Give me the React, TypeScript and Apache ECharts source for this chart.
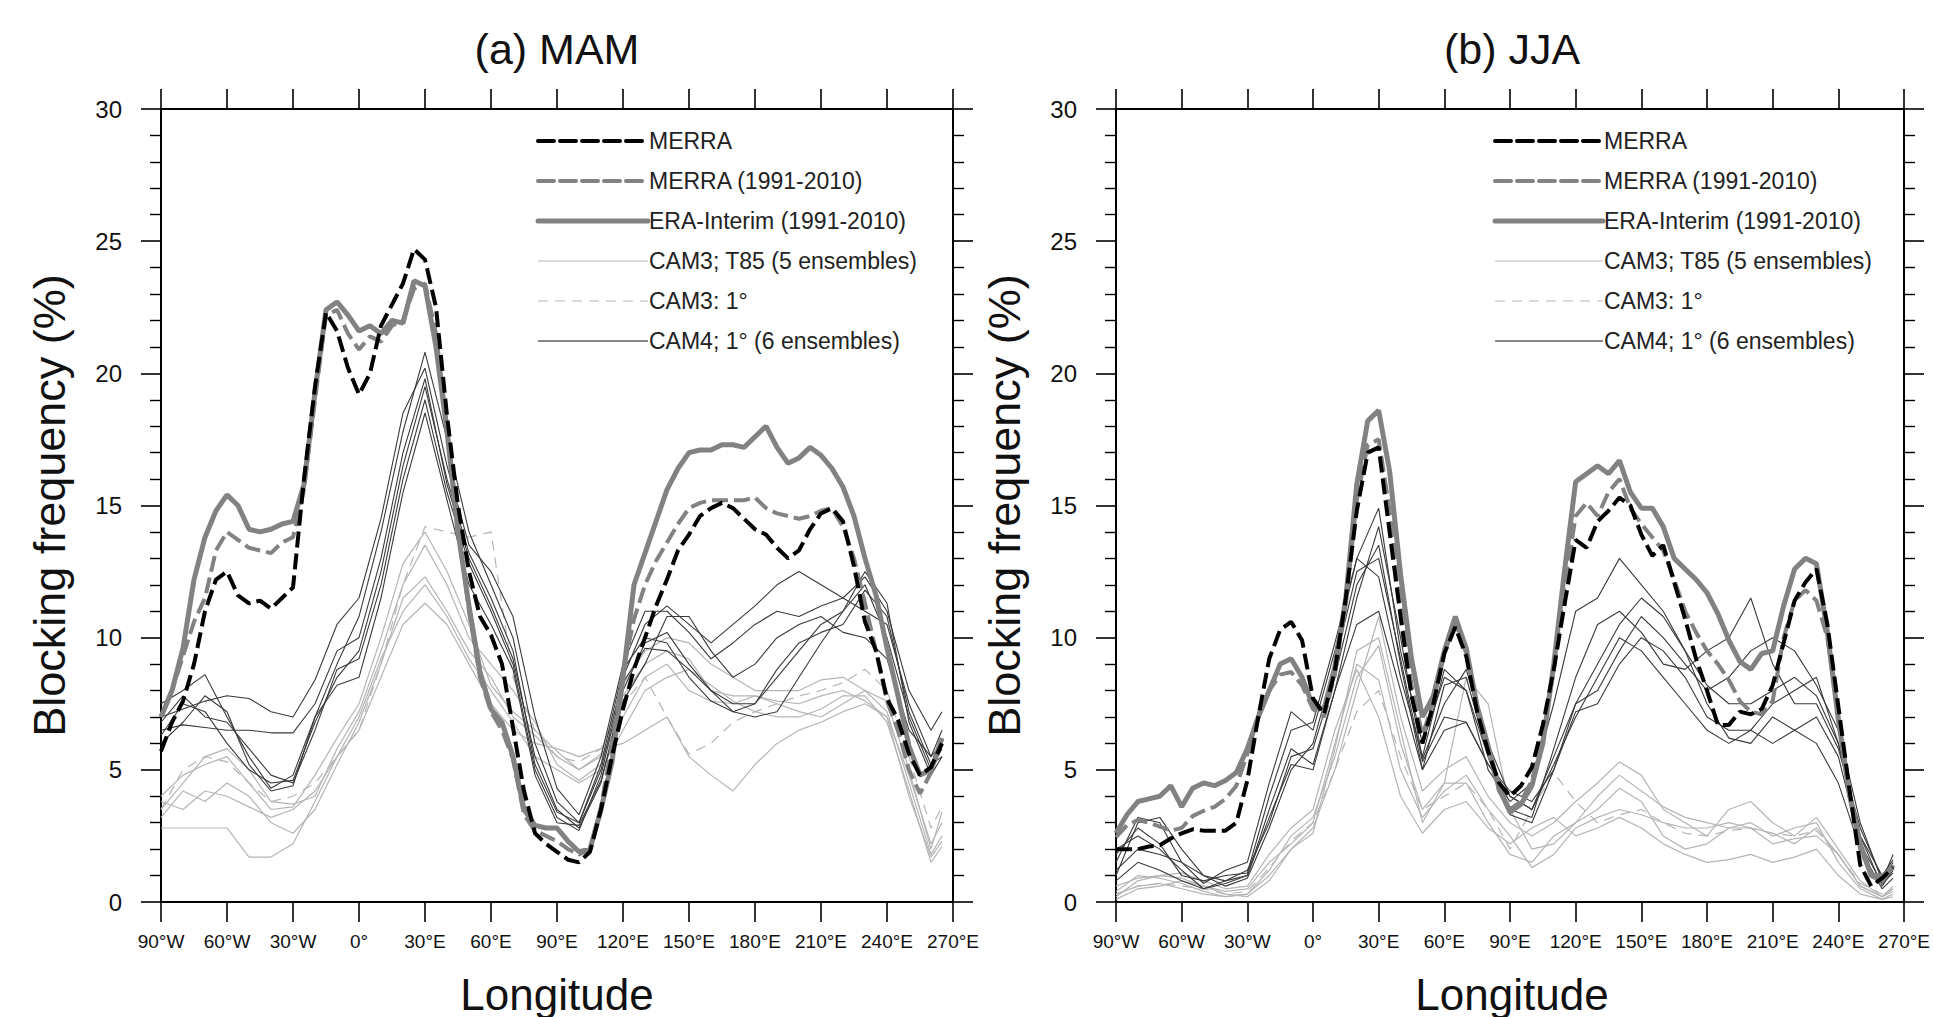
import React, { useEffect, useRef } from "react";
import * as echarts from "echarts";

// ---------- data ----------
const LON5 = [-90, -85, -80, -75, -70, -65, -60, -55, -50, -45, -40, -35, -30, -25, -20, -15, -10, -5, 0, 5, 10, 15, 20, 25, 30, 35, 40, 45, 50, 55, 60, 65, 70, 75, 80, 85, 90, 95, 100, 105, 110, 115, 120, 125, 130, 135, 140, 145, 150, 155, 160, 165, 170, 175, 180, 185, 190, 195, 200, 205, 210, 215, 220, 225, 230, 235, 240, 245, 250, 255, 260, 265];
const LON10 = [-90, -80, -70, -60, -50, -40, -30, -20, -10, 0, 10, 20, 30, 40, 50, 60, 70, 80, 90, 100, 110, 120, 130, 140, 150, 160, 170, 180, 190, 200, 210, 220, 230, 240, 250, 260, 265];

const X_TICK_LABELS = ["90°W", "60°W", "30°W", "0°", "30°E", "60°E", "90°E", "120°E", "150°E", "180°E", "210°E", "240°E", "270°E"];
const TITLES = ["(a) MAM", "(b) JJA"];
const Y_NAME = "Blocking frequency (%)";
const X_NAME = "Longitude";
const LEGEND_NAMES = ["MERRA", "MERRA (1991-2010)", "ERA-Interim (1991-2010)", "CAM3; T85 (5 ensembles)", "CAM3: 1°", "CAM4; 1° (6 ensembles)"];

// ----- MAM -----
const MAM_MERRA = [
  5.7, 6.8, 7.6, 9.0, 11.0, 12.2, 12.5, 11.6, 11.3, 11.4, 11.1, 11.5,
  11.9, 16.0, 19.5, 22.3, 21.6, 20.2, 19.2, 20.0, 21.8, 22.6, 23.4, 24.7,
  24.3, 22.5, 18.4, 15.0, 12.5, 10.8, 10.1, 9.0, 6.6, 4.2, 2.6, 2.2,
  1.9, 1.6, 1.5, 1.9, 3.5, 5.5, 7.3, 8.8, 10.0, 11.2, 12.2, 13.3,
  13.9, 14.6, 14.9, 15.1, 14.9, 14.5, 14.1, 13.9, 13.4, 13.0, 13.3, 14.1,
  14.7, 14.9, 14.4, 12.7, 10.6, 9.5, 7.7, 6.9, 5.6, 4.8, 5.1, 6.0,
];
const MAM_MERRA91 = [
  7.0, 8.0, 9.3, 10.6, 11.5, 13.3, 14.0, 13.7, 13.4, 13.3, 13.2, 13.6,
  13.8, 15.6, 19.0, 22.2, 22.4, 21.5, 20.9, 21.4, 21.2, 21.8, 22.0, 23.2,
  23.4, 21.5, 18.0, 14.2, 11.0, 8.5, 7.2, 6.5, 5.4, 3.3, 2.7, 2.5,
  2.3, 2.0, 1.8, 2.0, 3.6, 6.0, 8.7, 10.7, 12.0, 12.9, 13.6, 14.3,
  14.9, 15.1, 15.2, 15.2, 15.2, 15.2, 15.3, 14.9, 14.7, 14.6, 14.5, 14.6,
  14.8, 14.9, 14.2, 13.0, 11.3, 9.5, 7.6, 6.5, 5.0, 4.1, 4.9, 6.2,
];
const MAM_ERA = [
  7.0, 8.0, 9.6, 12.2, 13.8, 14.8, 15.4, 15.0, 14.1, 14.0, 14.1, 14.3,
  14.4, 15.8, 19.3, 22.4, 22.7, 22.2, 21.6, 21.8, 21.5, 22.0, 21.9, 23.5,
  23.3, 21.0, 17.8, 14.0, 11.2, 8.7, 7.3, 6.8, 5.5, 3.5, 2.9, 2.8,
  2.8, 2.3, 1.9, 2.0, 3.5, 5.3, 8.5, 12.0, 13.2, 14.4, 15.6, 16.4,
  17.0, 17.1, 17.1, 17.3, 17.3, 17.2, 17.6, 18.0, 17.2, 16.6, 16.8, 17.2,
  16.9, 16.4, 15.7, 14.6, 13.0, 11.6, 9.6, 7.8, 5.9, 4.8, 5.0, 6.2,
];
const MAM_T85 = [
  [2.8, 2.8, 2.8, 2.8, 1.7, 1.7, 2.2, 3.8, 5.5, 6.5, 8.5, 10.5, 11.3, 10.5, 9.0, 7.5, 6.5, 6.0, 5.8, 5.5, 5.8, 6.0, 6.5, 7.0, 5.5, 4.8, 4.2, 5.2, 6.0, 6.5, 6.8, 7.2, 7.5, 7.0, 4.0, 1.7, 2.3],
  [3.2, 4.2, 3.8, 4.5, 4.0, 3.0, 2.6, 3.5, 5.2, 6.8, 9.0, 11.5, 12.3, 11.0, 9.5, 8.5, 7.0, 6.3, 5.5, 5.0, 5.5, 7.0, 8.5, 9.0, 8.0, 7.6, 7.5, 7.8, 7.5, 7.2, 7.0, 7.5, 8.0, 7.2, 4.5, 1.8, 2.5],
  [3.5, 4.5, 5.5, 5.8, 5.0, 3.8, 3.7, 4.0, 5.8, 7.2, 9.5, 12.0, 13.5, 12.0, 10.0, 9.0, 8.0, 6.8, 5.2, 4.6, 5.2, 7.8, 9.0, 9.5, 9.2, 8.0, 7.8, 7.8, 7.6, 7.5, 7.8, 8.0, 7.6, 7.0, 4.8, 2.2, 3.0],
  [4.0, 4.8, 5.2, 5.5, 4.5, 3.5, 3.6, 4.8, 6.2, 7.5, 10.0, 12.8, 14.0, 12.5, 10.5, 8.2, 7.2, 6.5, 5.7, 5.0, 5.6, 8.2, 9.5, 10.0, 9.8, 9.0, 8.5, 8.0, 8.0, 8.0, 8.4, 8.5, 8.0, 7.6, 5.0, 2.0, 3.4],
  [3.8, 3.5, 4.2, 4.0, 3.6, 3.2, 3.5, 4.2, 5.5, 7.0, 9.2, 11.0, 12.0, 10.8, 9.2, 8.0, 6.8, 5.5, 5.0, 4.5, 5.0, 6.5, 8.0, 8.5, 8.8, 8.2, 7.6, 7.2, 7.0, 7.0, 7.3, 7.8, 7.8, 6.8, 4.2, 1.5, 2.1],
];
const MAM_CAM3_1DEG = [3.5, 5.0, 5.5, 5.3, 4.5, 3.8, 4.0, 4.5, 5.5, 6.5, 9.0, 12.0, 14.2, 14.0, 13.8, 14.0, 8.5, 6.5, 5.5, 5.3, 5.8, 7.5, 8.5, 7.0, 5.6, 6.0, 6.8, 7.2, 7.5, 7.8, 8.0, 8.3, 8.8, 8.0, 5.5, 2.8, 3.6];
const MAM_CAM4 = [
  [7.5, 8.0, 8.6, 7.0, 5.5, 4.3, 4.8, 7.0, 9.0, 10.8, 14.0, 17.8, 20.8, 17.5, 14.0, 12.0, 10.0, 6.0, 3.8, 3.0, 5.0, 8.5, 10.5, 11.2, 10.5, 9.8, 10.5, 11.2, 12.0, 12.5, 12.0, 11.5, 11.0, 10.5, 7.5, 5.5, 6.0],
  [7.0, 7.3, 7.6, 7.8, 7.7, 7.2, 7.0, 8.4, 10.5, 11.5, 14.5, 18.5, 20.2, 16.5, 13.5, 12.5, 10.8, 7.0, 4.3, 3.3, 5.5, 9.0, 11.0, 11.0, 10.2, 9.2, 9.8, 10.5, 11.0, 10.8, 11.2, 11.5, 12.3, 11.0, 8.0, 6.5, 7.2],
  [6.5, 6.7, 6.6, 6.5, 6.5, 6.4, 6.4, 7.5, 9.5, 10.0, 13.0, 17.0, 19.8, 15.8, 13.0, 11.2, 9.2, 5.5, 3.5, 2.8, 4.5, 8.0, 9.8, 10.2, 9.0, 8.0, 7.5, 7.5, 8.5, 9.5, 10.5, 11.0, 12.0, 10.0, 7.0, 5.0, 5.8],
  [6.3, 7.5, 7.2, 6.0, 5.0, 4.5, 4.6, 6.8, 8.5, 9.5, 12.5, 16.5, 19.5, 16.0, 13.2, 11.5, 9.5, 5.2, 3.4, 3.0, 5.2, 8.8, 10.0, 9.8, 8.5, 7.6, 7.2, 7.5, 8.8, 9.8, 10.2, 10.5, 11.8, 10.8, 7.2, 5.2, 5.5],
  [6.8, 7.8, 7.0, 6.8, 5.8, 4.8, 4.5, 6.5, 8.8, 9.2, 12.0, 16.0, 19.0, 15.5, 12.8, 11.0, 9.0, 5.0, 3.2, 2.7, 4.8, 8.3, 9.6, 9.5, 8.8, 8.0, 7.2, 7.0, 7.2, 8.5, 9.8, 11.0, 12.5, 11.3, 6.8, 4.8, 5.5],
  [6.0, 6.8, 7.8, 7.2, 5.2, 4.2, 4.4, 7.0, 8.2, 8.5, 11.5, 15.5, 18.5, 15.2, 12.0, 10.5, 8.8, 4.8, 3.0, 2.9, 4.6, 7.6, 9.0, 10.8, 10.8, 9.5, 8.5, 9.0, 10.0, 10.5, 10.8, 10.2, 10.0, 9.2, 6.5, 5.5, 6.5],
];

// ----- JJA -----
const JJA_MERRA = [
  2.0, 2.0, 2.0, 2.1, 2.15, 2.4, 2.6, 2.75, 2.7, 2.7, 2.7, 3.0,
  4.6, 7.0, 9.2, 10.3, 10.6, 9.9, 7.7, 7.1, 8.75, 11.5, 14.8, 17.0,
  17.2, 14.0, 10.8, 7.8, 6.0, 7.5, 9.4, 10.4, 9.3, 7.2, 5.7, 4.5,
  4.0, 4.4, 5.1, 6.7, 8.8, 11.3, 13.7, 13.4, 14.4, 14.8, 15.3, 15.0,
  13.9, 13.1, 13.5, 12.1, 10.7, 9.2, 8.0, 6.7, 6.7, 7.2, 7.1, 7.3,
  8.2, 9.8, 11.4, 12.1, 12.6, 10.5, 7.4, 4.3, 1.4, 0.6, 0.9, 1.3,
];
const JJA_MERRA91 = [
  2.45, 2.9, 3.1, 3.0, 2.85, 2.7, 2.8, 3.25, 3.45, 3.6, 3.9, 4.4,
  5.6, 7.1, 8.0, 8.6, 8.7, 8.2, 7.3, 7.0, 8.6, 11.3, 15.2, 17.3,
  17.5, 14.8, 11.2, 8.2, 6.3, 7.6, 9.4, 10.6, 9.4, 7.3, 5.7, 4.2,
  3.5, 3.8, 4.6, 6.3, 8.8, 12.0, 14.6, 15.1, 14.6, 15.5, 16.0, 14.9,
  14.3, 13.8, 13.3, 12.2, 11.0, 10.2, 9.5, 9.0, 8.4, 7.6, 7.2, 7.1,
  7.6, 10.0, 11.4, 11.8, 11.4, 10.0, 7.0, 4.1, 2.0, 1.05, 1.0, 1.3,
];
const JJA_ERA = [
  2.6, 3.3, 3.8, 3.9, 4.0, 4.4, 3.6, 4.3, 4.5, 4.4, 4.6, 4.9,
  5.8, 7.0, 8.0, 9.0, 9.2, 8.5, 7.4, 7.3, 8.9, 11.5, 15.8, 18.2,
  18.6, 16.3, 12.4, 9.2, 7.0, 7.8, 9.5, 10.8, 9.6, 7.4, 5.9, 4.3,
  3.4, 3.7, 4.4, 6.0, 9.0, 12.6, 15.9, 16.2, 16.5, 16.2, 16.7, 15.5,
  14.9, 14.9, 14.2, 13.0, 12.6, 12.2, 11.7, 10.9, 9.9, 9.1, 8.8, 9.4,
  9.5, 11.2, 12.6, 13.0, 12.8, 10.2, 6.9, 4.1, 2.2, 1.0, 0.8, 1.4,
];
const JJA_T85 = [
  [0.2, 0.8, 1.0, 0.9, 0.6, 0.3, 0.2, 0.8, 2.0, 2.8, 5.0, 8.0, 10.8, 7.0, 4.2, 5.0, 5.5, 4.0, 3.0, 2.5, 3.0, 3.8, 4.5, 5.3, 4.8, 3.5, 3.0, 2.5, 3.5, 3.8, 3.0, 2.5, 3.2, 2.0, 0.8, 0.2, 0.6],
  [0.4, 1.0, 0.9, 0.7, 0.4, 0.2, 0.3, 1.2, 2.5, 3.2, 5.5, 8.5, 9.7, 6.0, 3.5, 4.5, 8.5, 7.5, 3.5, 2.0, 2.2, 3.0, 3.5, 4.3, 3.8, 2.5, 2.0, 2.2, 2.8, 3.0, 2.5, 2.8, 3.0, 1.5, 0.5, 0.1, 0.3],
  [0.1, 0.5, 0.6, 0.8, 0.6, 0.4, 0.5, 1.5, 2.2, 3.0, 6.0, 9.0, 8.4, 5.0, 3.2, 4.2, 4.8, 3.5, 2.5, 1.3, 1.8, 2.8, 3.2, 3.5, 3.3, 3.0, 2.8, 2.8, 3.0, 2.8, 2.2, 2.4, 2.5, 1.8, 0.6, 0.2, 0.4],
  [0.6, 0.9, 1.0, 1.1, 0.8, 0.5, 0.6, 1.8, 2.8, 3.5, 6.5, 8.8, 7.0, 4.0, 2.6, 3.5, 3.8, 2.8, 2.2, 2.8, 3.2, 2.5, 2.8, 3.2, 2.8, 2.2, 1.8, 1.5, 1.6, 1.8, 1.5, 1.7, 2.0, 1.0, 0.3, 0.1, 0.2],
  [0.3, 0.6, 0.7, 0.5, 0.3, 0.2, 0.3, 1.0, 2.0, 2.6, 5.8, 9.5, 10.0, 6.5, 3.0, 4.5, 4.5, 3.0, 1.8, 1.5, 2.5, 3.0, 4.0, 4.8, 4.2, 3.6, 3.2, 3.0, 2.8, 2.8, 2.6, 2.2, 2.8, 1.8, 0.6, 0.2, 0.5],
];
const JJA_CAM3_1DEG = [0.3, 0.6, 0.7, 0.6, 0.5, 0.3, 0.4, 1.3, 2.3, 3.0, 5.0, 7.2, 8.0, 5.5, 3.5, 4.0, 4.5, 3.5, 2.0, 3.5, 4.9, 3.8, 3.0, 3.3, 3.5, 3.0, 2.6, 2.5, 2.7, 2.8, 2.6, 2.5, 2.7, 1.8, 0.7, 0.3, 0.5];
const JJA_CAM4 = [
  [1.5, 3.2, 3.0, 1.5, 0.7, 1.2, 1.5, 4.5, 7.2, 6.5, 9.5, 13.0, 14.9, 9.5, 6.0, 8.5, 8.0, 5.0, 3.8, 4.5, 7.5, 11.0, 11.5, 13.0, 12.0, 11.0, 9.5, 8.2, 7.5, 7.5, 8.0, 8.5, 7.8, 6.0, 2.5, 1.0, 1.6],
  [1.0, 3.0, 3.2, 2.0, 1.0, 0.8, 1.0, 3.5, 5.8, 5.2, 8.0, 11.5, 14.2, 10.0, 5.4, 7.5, 8.8, 6.0, 4.0, 3.5, 5.5, 7.5, 8.0, 9.5, 10.8, 10.0, 9.0, 8.0, 8.5, 9.5, 10.0, 9.5, 8.2, 6.5, 3.0, 0.8, 1.8],
  [2.0, 2.5, 2.0, 1.2, 0.5, 0.8, 1.2, 3.0, 5.5, 5.8, 8.5, 12.0, 13.5, 9.0, 5.0, 8.2, 8.5, 5.5, 3.3, 3.0, 5.0, 7.2, 7.5, 9.0, 10.0, 9.5, 8.5, 7.0, 6.5, 6.5, 7.5, 8.0, 8.5, 6.0, 2.5, 0.6, 1.2],
  [1.2, 2.0, 1.8, 1.5, 1.0, 0.6, 0.9, 2.8, 5.0, 6.0, 9.0, 12.5, 13.0, 9.2, 5.3, 7.0, 6.8, 5.2, 4.2, 3.8, 5.0, 7.5, 9.0, 10.5, 11.5, 10.8, 9.5, 7.5, 6.2, 6.0, 7.0, 6.5, 7.0, 5.5, 2.2, 0.7, 1.1],
  [1.8, 2.8, 2.2, 1.0, 0.8, 1.0, 1.1, 4.0, 6.5, 6.8, 9.8, 13.0, 12.3, 8.5, 5.5, 8.8, 8.0, 5.5, 3.5, 3.2, 5.8, 8.5, 10.5, 11.0, 10.2, 9.0, 8.8, 9.5, 10.0, 11.5, 9.0, 7.5, 7.5, 5.8, 2.8, 0.9, 1.5],
  [0.8, 1.5, 1.2, 0.8, 0.5, 0.7, 1.0, 3.2, 5.2, 5.0, 8.0, 10.5, 11.0, 8.0, 5.0, 6.5, 6.8, 5.2, 4.0, 3.5, 5.2, 7.0, 8.5, 10.0, 9.5, 8.5, 7.5, 6.5, 6.0, 6.5, 6.0, 6.5, 6.0, 4.5, 2.0, 0.5, 0.9],
];

// ---------- styles / layout ----------
const FONT = "'Liberation Sans', Arial, Helvetica, sans-serif";
const FONT_NARROW = "'Liberation Sans Narrow', 'Liberation Sans', Arial, sans-serif";

const STYLES: any[] = [
  { color: "#000000", width: 4, type: [16, 6] },
  { color: "#828282", width: 4, type: [16, 6] },
  { color: "#828282", width: 5, type: "solid" },
  { color: "#b5b5b5", width: 1.2, type: "solid" },
  { color: "#b5b5b5", width: 1.2, type: [10, 7] },
  { color: "#3a3a3a", width: 1.1, type: "solid" },
];

const GRID_LEFT = [161, 1116];
const GRID_TOP = 109;
const GRID_W = 792;
const GRID_H = 793;

function lineSeries(name: string, styleIdx: number, xs: number[], ys: number[], g: number) {
  const st = STYLES[styleIdx];
  return {
    type: "line",
    name,
    xAxisIndex: g * 2,
    yAxisIndex: g * 2,
    data: xs.map((x, i) => [x, ys[i]]),
    symbol: "none",
    showSymbol: false,
    silent: true,
    color: st.color,
    lineStyle: { color: st.color, width: st.width, type: st.type },
    emphasis: { disabled: true },
  };
}

function panelSeries(g: number, merra: number[], merra91: number[], era: number[], t85: number[][], c31: number[], c4: number[][]) {
  const out: any[] = [];
  t85.forEach((ys) => out.push(lineSeries(LEGEND_NAMES[3], 3, LON10, ys, g)));
  out.push(lineSeries(LEGEND_NAMES[4], 4, LON10, c31, g));
  c4.forEach((ys) => out.push(lineSeries(LEGEND_NAMES[5], 5, LON10, ys, g)));
  out.push(lineSeries(LEGEND_NAMES[2], 2, LON5, era, g));
  out.push(lineSeries(LEGEND_NAMES[1], 1, LON5, merra91, g));
  out.push(lineSeries(LEGEND_NAMES[0], 0, LON5, merra, g));
  return out;
}

const axisLine = { show: true, onZero: false, lineStyle: { color: "#000", width: 2 } };
const axisTick = { show: true, inside: false, length: 20, lineStyle: { color: "#000", width: 1.6 } };

function xAxes(g: number) {
  const base = {
    type: "value",
    gridIndex: g,
    min: -90,
    max: 270,
    interval: 30,
    axisLine,
    axisTick,
    splitLine: { show: false },
  };
  return [
    {
      ...base,
      position: "bottom",
      axisLabel: {
        show: true,
        margin: 30,
        fontSize: 19,
        fontFamily: FONT_NARROW,
        color: "#111",
        showMinLabel: true,
        showMaxLabel: true,
        formatter: (v: number) => X_TICK_LABELS[Math.round((v + 90) / 30)] ?? "",
      },
    },
    { ...base, position: "top", axisLabel: { show: false } },
  ];
}

function yAxes(g: number) {
  const base = {
    type: "value",
    gridIndex: g,
    min: 0,
    max: 30,
    interval: 5,
    axisLine,
    axisTick,
    minorTick: { show: true, splitNumber: 5, length: 11, lineStyle: { color: "#000", width: 1.4 } },
    splitLine: { show: false },
    minorSplitLine: { show: false },
  };
  return [
    {
      ...base,
      position: "left",
      axisLabel: { show: true, margin: 39, fontSize: 24, fontFamily: FONT, color: "#111" },
    },
    { ...base, position: "right", axisLabel: { show: false } },
  ];
}

function textEl(text: string, x: number, y: number, fontSize: number, rotation = 0) {
  return {
    type: "text",
    x,
    y,
    rotation,
    silent: true,
    style: {
      text,
      fontSize,
      fontFamily: FONT,
      fill: "#111",
      textAlign: "center",
      textVerticalAlign: "middle",
      align: "center",
      verticalAlign: "middle",
    },
  };
}

function legendEls(g: number) {
  const x1 = [538, 1495][g];
  const x2 = [648, 1603][g];
  const els: any[] = [];
  LEGEND_NAMES.forEach((name, i) => {
    const y = 141 + i * 40;
    const st = STYLES[i];
    els.push({
      type: "line",
      silent: true,
      shape: { x1, y1: y, x2, y2: y },
      style: {
        stroke: st.color === "#3a3a3a" ? "#111" : st.color,
        lineWidth: st.width,
        lineDash: Array.isArray(st.type) ? st.type : null,
        lineCap: i < 3 ? "round" : "butt",
      },
    });
    els.push({
      type: "text",
      silent: true,
      x: x2 + 1,
      y,
      style: {
        text: name,
        fontSize: 23,
        fontFamily: FONT,
        fill: "#222",
        textAlign: "left",
        textVerticalAlign: "middle",
        align: "left",
        verticalAlign: "middle",
      },
    });
  });
  return els;
}

function buildOption() {
  const series = [
    ...panelSeries(0, MAM_MERRA, MAM_MERRA91, MAM_ERA, MAM_T85, MAM_CAM3_1DEG, MAM_CAM4),
    ...panelSeries(1, JJA_MERRA, JJA_MERRA91, JJA_ERA, JJA_T85, JJA_CAM3_1DEG, JJA_CAM4),
  ];
  const graphic: any[] = [];
  [0, 1].forEach((g) => {
    const cx = GRID_LEFT[g] + GRID_W / 2;
    graphic.push(textEl(TITLES[g], cx, 49, 43));
    graphic.push(textEl(Y_NAME, GRID_LEFT[g] - 112, GRID_TOP + GRID_H / 2, 45, Math.PI / 2));
    graphic.push(textEl(X_NAME, cx, 994, 44));
    graphic.push(...legendEls(g));
  });
  return {
    animation: false,
    backgroundColor: "#ffffff",
    textStyle: { fontFamily: FONT },
    grid: GRID_LEFT.map((left) => ({ left, top: GRID_TOP, width: GRID_W, height: GRID_H, containLabel: false })),
    xAxis: [...xAxes(0), ...xAxes(1)],
    yAxis: [...yAxes(0), ...yAxes(1)],
    series,
    graphic,
  };
}

export default function App() {
  const ref = useRef<HTMLDivElement>(null);
  useEffect(() => {
    if (!ref.current) return;
    const chart = echarts.init(ref.current, null, { renderer: "svg" });
    chart.setOption(buildOption() as any);
    return () => chart.dispose();
  }, []);
  return (
    <div
      ref={ref}
      style={{ position: "absolute", left: 0, top: 0, width: 1933, height: 1017, background: "#fff" }}
    />
  );
}
